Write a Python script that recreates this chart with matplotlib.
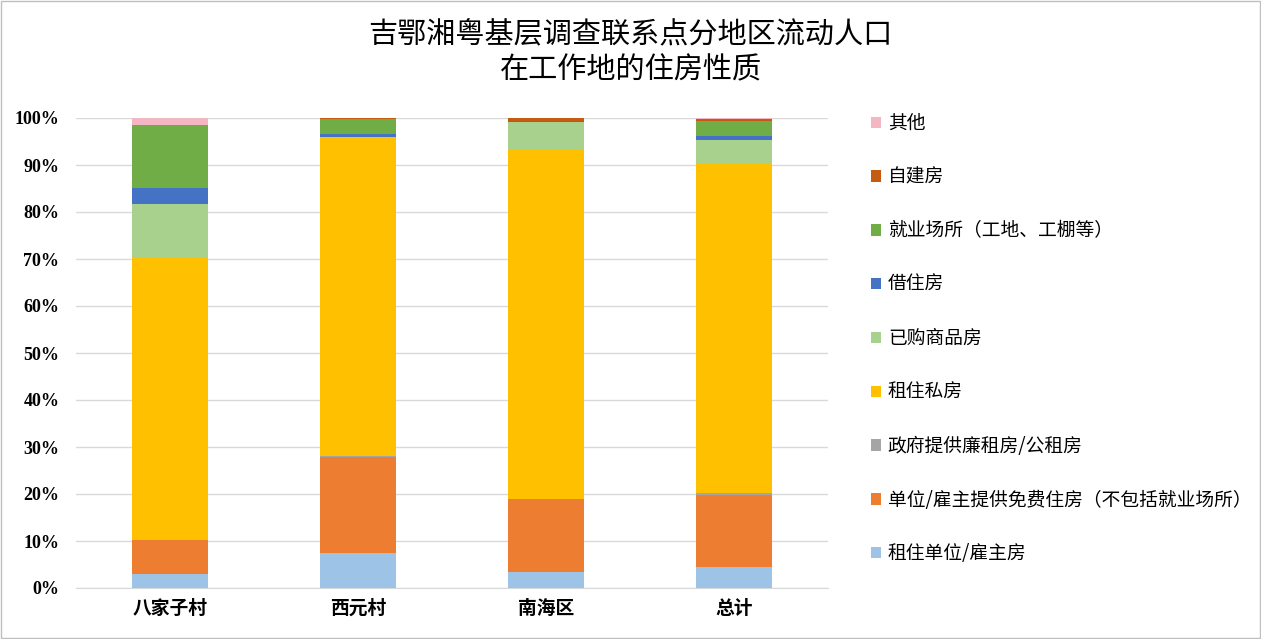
import numpy as np
import matplotlib.pyplot as plt
from matplotlib.patches import Rectangle

plt.rcParams['font.family'] = ['Noto Sans CJK SC', 'DejaVu Sans']

# ================================
# Data (shares in %)
# ================================
regions = ['八家子村', '西元村', '南海区', '总计']
series_names = [
    '租住单位/雇主房',
    '单位/雇主提供免费住房（不包括就业场所）',
    '政府提供廉租房/公租房',
    '租住私房',
    '已购商品房',
    '借住房',
    '就业场所（工地、工棚等）',
    '自建房',
    '其他',
]
rent_employer = [3.0, 7.5, 3.3, 4.4]
employer_free = [7.3, 20.3, 15.7, 15.4]
gov_housing = [0.0, 0.2, 0.0, 0.4]
rent_private = [60.0, 68.0, 74.5, 70.1]
bought = [11.3, 0.0, 5.7, 5.1]
borrowed = [3.6, 0.5, 0.2, 0.8]
workplace = [13.4, 3.2, 0.0, 3.2]
self_built = [0.0, 0.3, 0.6, 0.3]
other = [1.4, 0.0, 0.0, 0.3]

series = [rent_employer, employer_free, gov_housing, rent_private, bought,
          borrowed, workplace, self_built, other]
colors = ['#9dc3e6', '#ed7d31', '#a5a5a5', '#ffc000', '#a9d18e',
          '#4472c4', '#70ad47', '#c55a11', '#f4b6c2']

# ================================
# Plot
# ================================
fig = plt.figure(figsize=(12.61, 6.39), dpi=100)
ax = fig.add_axes([76 / 1261, 1 - 588 / 639, 752 / 1261, 470 / 639])

x = np.arange(len(regions))
bottom = np.zeros(len(regions))
handles = []
for name, vals, c in zip(series_names, series, colors):
    vals = np.array(vals)
    b = ax.bar(x, vals, 0.4, bottom=bottom, color=c, label=name, zorder=3)
    handles.append(b)
    bottom += vals

ax.set_xlim(-0.5, len(regions) - 0.5)
ax.set_ylim(0, 100)
ax.set_yticks(np.arange(0, 101, 10))
ax.set_yticklabels([f'{v}%' for v in range(0, 101, 10)],
                   fontfamily='Liberation Serif', fontweight='bold', fontsize=13)
ax.set_xticks(x)
ax.set_xticklabels(regions, fontweight='bold', fontsize=13.5)
ax.yaxis.grid(True, color='#d9d9d9', linewidth=1, zorder=0)
ax.tick_params(axis='y', length=0, pad=12)
ax.tick_params(axis='x', length=0, pad=8)
for s in ['top', 'right', 'left']:
    ax.spines[s].set_visible(False)
ax.spines['bottom'].set_color('#d9d9d9')

fig.suptitle('吉鄂湘粤基层调查联系点分地区流动人口\n在工作地的住房性质',
             y=0.968, fontsize=21, linespacing=1.2)

leg = fig.legend(handles[::-1], series_names[::-1], loc='upper left',
                 bbox_to_anchor=(854 / 1261, 1 - 96 / 639), frameon=False,
                 fontsize=13.5, labelspacing=1.75, handlelength=0.55,
                 handleheight=0.55, handletextpad=0.35)

# figure border
fig.patches.append(Rectangle((0.001, 0.001), 0.998, 0.998, transform=fig.transFigure,
                             fill=False, edgecolor='#bfbfbf', linewidth=1))

fig.savefig('out.png', dpi=100)
